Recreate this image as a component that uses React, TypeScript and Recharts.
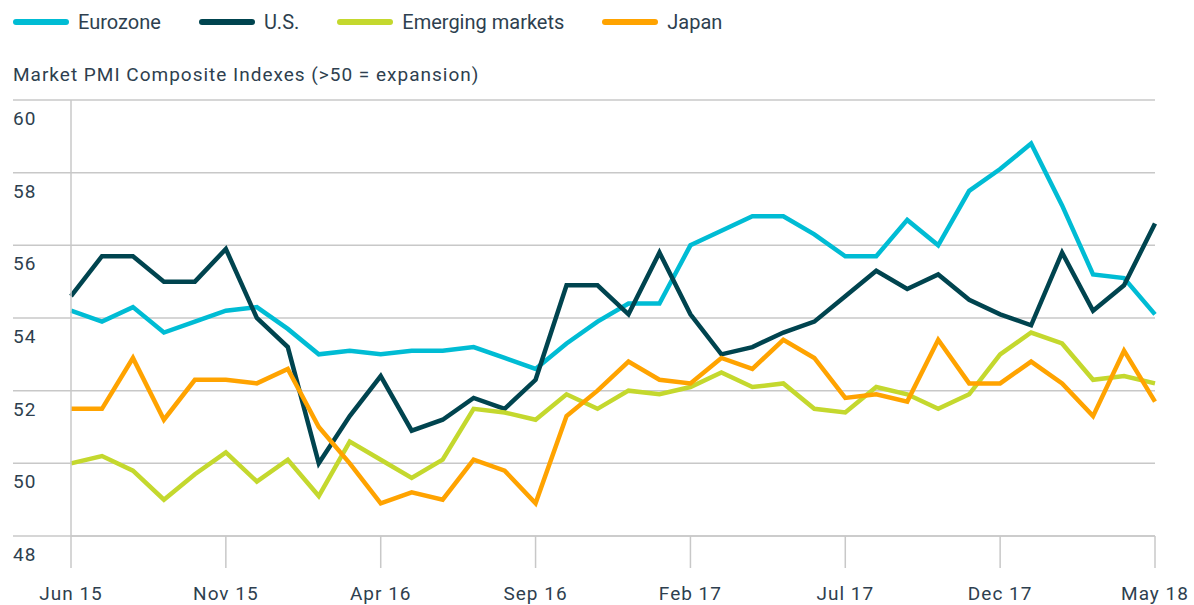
import { CartesianGrid, Line, LineChart, XAxis, YAxis } from "recharts"

const months = [
  "Jun 15", "Jul 15", "Aug 15", "Sep 15", "Oct 15", "Nov 15", "Dec 15",
  "Jan 16", "Feb 16", "Mar 16", "Apr 16", "May 16", "Jun 16", "Jul 16", "Aug 16", "Sep 16", "Oct 16", "Nov 16", "Dec 16",
  "Jan 17", "Feb 17", "Mar 17", "Apr 17", "May 17", "Jun 17", "Jul 17", "Aug 17", "Sep 17", "Oct 17", "Nov 17", "Dec 17",
  "Jan 18", "Feb 18", "Mar 18", "Apr 18", "May 18",
]

const eurozone = [
  54.2, 53.9, 54.3, 53.6, 53.9, 54.2, 54.3, 53.7, 53.0, 53.1, 53.0, 53.1, 53.1, 53.2, 52.9, 52.6, 53.3, 53.9,
  54.4, 54.4, 56.0, 56.4, 56.8, 56.8, 56.3, 55.7, 55.7, 56.7, 56.0, 57.5, 58.1, 58.8, 57.1, 55.2, 55.1, 54.1,
]
const us = [
  54.6, 55.7, 55.7, 55.0, 55.0, 55.9, 54.0, 53.2, 50.0, 51.3, 52.4, 50.9, 51.2, 51.8, 51.5, 52.3, 54.9, 54.9,
  54.1, 55.8, 54.1, 53.0, 53.2, 53.6, 53.9, 54.6, 55.3, 54.8, 55.2, 54.5, 54.1, 53.8, 55.8, 54.2, 54.9, 56.6,
]
const emerging = [
  50.0, 50.2, 49.8, 49.0, 49.7, 50.3, 49.5, 50.1, 49.1, 50.6, 50.1, 49.6, 50.1, 51.5, 51.4, 51.2, 51.9, 51.5,
  52.0, 51.9, 52.1, 52.5, 52.1, 52.2, 51.5, 51.4, 52.1, 51.9, 51.5, 51.9, 53.0, 53.6, 53.3, 52.3, 52.4, 52.2,
]
const japan = [
  51.5, 51.5, 52.9, 51.2, 52.3, 52.3, 52.2, 52.6, 51.0, 50.0, 48.9, 49.2, 49.0, 50.1, 49.8, 48.9, 51.3, 52.0,
  52.8, 52.3, 52.2, 52.9, 52.6, 53.4, 52.9, 51.8, 51.9, 51.7, 53.4, 52.2, 52.2, 52.8, 52.2, 51.3, 53.1, 51.7,
]

const yTicks = [48, 50, 52, 54, 56, 58, 60]

const series = [
  { key: "eurozone", name: "Eurozone", color: "#00bcd4" },
  { key: "us", name: "U.S.", color: "#00444f" },
  { key: "emerging", name: "Emerging markets", color: "#c4d82e" },
  { key: "japan", name: "Japan", color: "#ffa300" },
]

const data = months.map((month, i) => ({
  month,
  eurozone: eurozone[i],
  us: us[i],
  emerging: emerging[i],
  japan: japan[i],
}))

const FONT = "Roboto, 'Liberation Sans', sans-serif"
const TEXT = "#2e3f4f"
const GRID = "#c8c8c8"

function YTick(props: any) {
  const { y, payload } = props
  return (
    <g>
      <line x1={13} x2={71} y1={y} y2={y} stroke={GRID} strokeWidth={1.5} />
      <text x={13} y={y} dy={25} fill={TEXT} fontSize={19} letterSpacing={1} fontFamily={FONT}>{payload.value}</text>
    </g>
  )
}

function XTick(props: any) {
  const { x, y, payload } = props
  return (
    <text x={x} y={y} dy={32} textAnchor="middle" fill={TEXT} fontSize={19} letterSpacing={1} fontFamily={FONT}>{payload.value}</text>
  )
}

export default function App() {
  return (
    <div style={{ position: "absolute", left: 0, top: 0, width: 1194, height: 605, background: "#fff", fontFamily: FONT }}>
      <div style={{ position: "absolute", left: 13, top: 9, display: "flex", alignItems: "center", gap: 38 }}>
        {series.map((s) => (
          <div key={s.key} style={{ display: "flex", alignItems: "center" }}>
            <span style={{ display: "inline-block", width: 56, height: 6, borderRadius: 3, background: s.color, marginRight: 9 }} />
            <span style={{ fontSize: 20, color: TEXT, lineHeight: "26px" }}>{s.name}</span>
          </div>
        ))}
      </div>
      <div style={{ position: "absolute", left: 13, top: 62, fontSize: 19, letterSpacing: 1, color: TEXT, lineHeight: "26px" }}>
        Market PMI Composite Indexes (&gt;50 = expansion)
      </div>
      <LineChart width={1194} height={605} data={data} margin={{ top: 100, right: 39, bottom: 0, left: 0 }}>
        <CartesianGrid vertical={false} stroke={GRID} strokeWidth={1.5} />
        <XAxis
          dataKey="month"
          interval={4}
          height={69}
          tickSize={32}
          tickMargin={0}
          axisLine={{ stroke: GRID, strokeWidth: 1.5 }}
          tickLine={{ stroke: GRID, strokeWidth: 1.5 }}
          tick={<XTick />}
        />
        <YAxis
          domain={[48, 60]}
          ticks={yTicks}
          width={71}
          tickLine={false}
          axisLine={{ stroke: GRID, strokeWidth: 1.5 }}
          tick={<YTick />}
        />
        {series.map((s) => (
          <Line
            key={s.key}
            dataKey={s.key}
            name={s.name}
            stroke={s.color}
            strokeWidth={4.5}
            dot={false}
            activeDot={false}
            type="linear"
            isAnimationActive={false}
          />
        ))}
      </LineChart>
    </div>
  )
}
